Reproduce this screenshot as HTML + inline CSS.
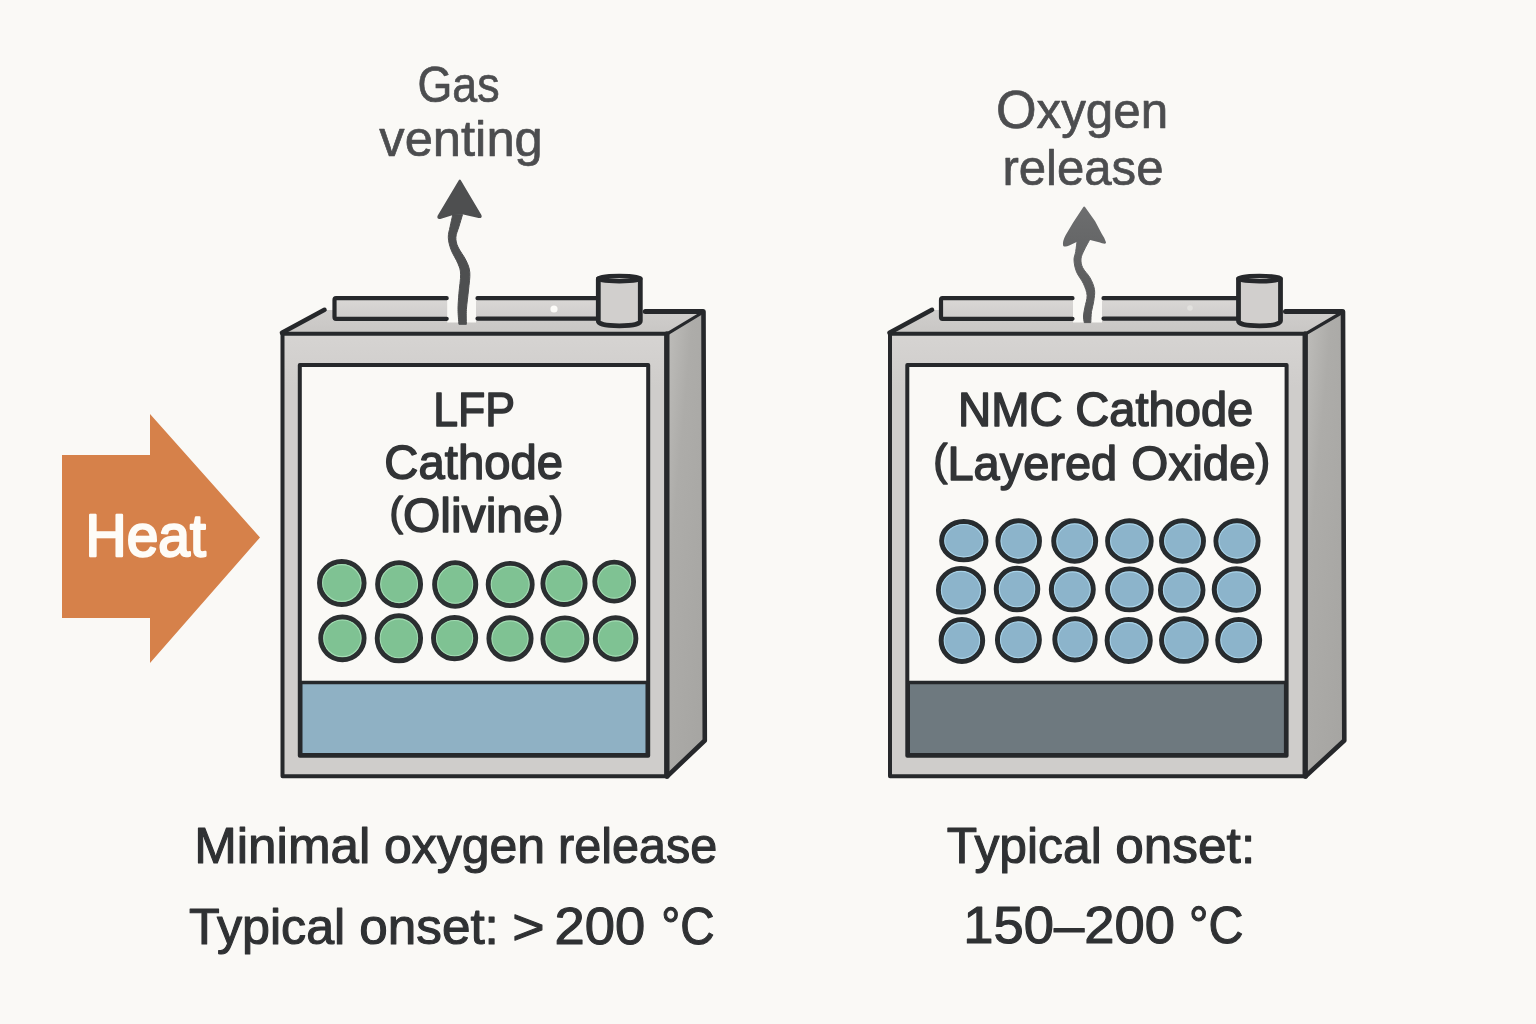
<!DOCTYPE html>
<html lang="en">
<head>
<meta charset="utf-8">
<title>LFP vs NMC cathode thermal stability</title>
<style>
html,body{margin:0;padding:0;background:#faf9f6;}
body{width:1536px;height:1024px;overflow:hidden;font-family:"Liberation Sans",sans-serif;}
svg{display:block;will-change:transform;}
text{font-family:"Liberation Sans",sans-serif;}
.lbl{fill:#323436;stroke:#323436;stroke-width:1.5px;stroke-linejoin:round;}
.cap{fill:#2f3133;stroke:#2f3133;stroke-width:1.1px;stroke-linejoin:round;}
.top{fill:#4c4d4f;stroke:#4c4d4f;stroke-width:.7px;stroke-linejoin:round;}
.heat{fill:#fefcf7;stroke:#fefcf7;stroke-width:2.4px;stroke-linejoin:round;}
.ol{stroke:#26282b;stroke-linejoin:round;stroke-linecap:round;}
</style>
</head>
<body>
<svg width="1536" height="1024" viewBox="0 0 1536 1024">
<defs>
<linearGradient id="side" x1="0" y1="0" x2="0.9" y2="1">
<stop offset="0" stop-color="#c0bfbc"/><stop offset="0.35" stop-color="#adaca9"/><stop offset="1" stop-color="#a6a5a2"/>
</linearGradient>
<linearGradient id="topg" x1="0" y1="0" x2="0" y2="1"><stop offset="0" stop-color="#d0cecc"/><stop offset="1" stop-color="#c8c6c4"/></linearGradient>
<linearGradient id="frontg" x1="0" y1="0" x2="0" y2="1"><stop offset="0" stop-color="#d6d4d2"/><stop offset="0.12" stop-color="#cfcdcb"/><stop offset="1" stop-color="#cfcdcb"/></linearGradient>
<linearGradient id="barg" x1="0" y1="0" x2="0" y2="1"><stop offset="0" stop-color="#dad8d6"/><stop offset="1" stop-color="#cecccb"/></linearGradient>
<linearGradient id="arr2" gradientUnits="userSpaceOnUse" x1="0" y1="207" x2="0" y2="323"><stop offset="0" stop-color="#6d6e6f"/><stop offset="0.45" stop-color="#626364"/><stop offset="1" stop-color="#545556"/></linearGradient>
</defs>

<!-- HEAT ARROW -->
<polygon points="62,455 150,455 150,414 260,537.5 150,663 150,618 62,618" fill="#d6814a"/>

<!-- LEFT BATTERY -->
<g id="batL" stroke="#26282b" stroke-linejoin="round" stroke-linecap="round" fill="none">
<polygon points="282.5,333.8 325.5,310 703.5,311.5 666.2,334.5" fill="url(#topg)" stroke="none"/>
<polygon points="666.2,334.5 703.5,311.5 704.8,740.5 666.2,776.3" fill="url(#side)" stroke="none"/>
<rect x="282.5" y="333.8" width="383.70000000000005" height="442.49999999999994" fill="url(#frontg)" stroke-width="4"/>
<path d="M282.0,332.8 L324.5,309.8" stroke-width="4.6"/>
<path d="M645.3,311.5 L702.5,311.5" stroke-width="5"/>
<path d="M667.2,333.8 L702.5,312.5" stroke-width="3.2"/>
<path d="M703.5,311.5 L704.8,740.5 L667.2,776.3" stroke-width="4.6"/>
<path d="M667.0,333.8 L667.0,776.3" stroke-width="5"/>
<rect x="299.8" y="365" width="348.40000000000003" height="390.8" fill="#faf9f6" stroke-width="4"/>
<rect x="300.8" y="682.5" width="346.40000000000003" height="72.3" fill="#8fb1c4" stroke-width="3.4"/>
<rect x="334.5" y="298.2" width="263.79999999999995" height="20.6" fill="url(#barg)" stroke="none"/>
<rect x="447.2" y="292" width="28.80000000000001" height="30.5" fill="#faf9f6" stroke="none"/>
<path d="M446.7,298.2 L336.0,298.2 Q334.5,298.2 334.5,300 L334.5,317 Q334.5,318.8 336.0,318.8 L446.7,318.8" stroke-width="4.2"/>
<path d="M477.5,298.2 L598.3,298.2 M477.5,318.6 L598.3,318.6" stroke-width="4.2"/>
<circle cx="554" cy="309" r="3.6" fill="#fcfbf8" stroke="none"/>
<path d="M598.3,279 L598.3,321 Q598.3,325.8 619.3,325.8 Q640.3,325.8 640.3,321 L640.3,279" fill="#d1cfcd" stroke-width="4.8"/>
<ellipse cx="619.3" cy="278.6" rx="21" ry="2.6" fill="#e9e8e5" stroke-width="4.6"/>
</g>

<!-- left gas arrow -->
<g fill="#4e4f50" stroke="#4e4f50" stroke-linejoin="round" stroke-linecap="round" stroke-width="1">
<path d="M452.7,215.0 C452.3,217.0 450.8,223.1 450.1,226.8 C449.4,230.5 448.2,233.5 448.3,237.3 C448.4,241.1 449.4,245.2 451.0,249.6 C452.6,254.0 456.4,259.6 458.0,263.7 C459.6,267.8 460.5,269.2 460.6,274.2 C460.8,279.2 459.3,287.7 458.9,293.6 C458.5,299.5 458.0,304.3 458.0,309.4 C458.0,314.5 458.8,321.8 458.9,324.3 L466.4,324.3 C466.4,321.8 466.0,315.1 466.4,309.4 C466.8,303.7 467.9,296.1 468.5,290.0 C469.1,283.9 470.2,277.5 469.8,272.5 C469.4,267.5 467.9,264.4 465.9,260.2 C463.9,255.9 459.7,250.8 458.0,247.0 C456.3,243.2 455.8,240.7 455.9,237.3 C456.0,233.9 457.8,230.5 458.9,226.8 C460.0,223.1 461.8,217.0 462.4,215.0Z"/>
<path d="M459.8,180.5 L438.6,216 Q437.6,218.4 440,218 L452,214.3 Q458,213 463.5,213.6 L478.8,217 Q481.6,217.6 480.4,215.3 Z" stroke-width="2"/>
</g>

<!-- green particles -->
<g fill="#7fc293" stroke="#2b2f31" stroke-width="5.3">
<ellipse cx="341.8" cy="583.0" rx="22.1" ry="21.3"/>
<ellipse cx="399.1" cy="584.2" rx="21.3" ry="21.3"/>
<ellipse cx="455.2" cy="584.5" rx="20.4" ry="21.6"/>
<ellipse cx="510.2" cy="584.5" rx="21.8" ry="20.9"/>
<ellipse cx="564.0" cy="583.6" rx="20.9" ry="20.7"/>
<ellipse cx="614.2" cy="581.6" rx="19.2" ry="19.3"/>
<ellipse cx="342.4" cy="638.3" rx="21.5" ry="21.2"/>
<ellipse cx="398.9" cy="638.3" rx="21.5" ry="22.3"/>
<ellipse cx="454.6" cy="638.1" rx="20.9" ry="20.5"/>
<ellipse cx="510.0" cy="638.5" rx="20.9" ry="20.5"/>
<ellipse cx="564.9" cy="639.1" rx="21.8" ry="21.0"/>
<ellipse cx="615.6" cy="638.5" rx="20.1" ry="20.5"/>
</g>
<g fill="none" stroke="#a3dcb3" stroke-width="1.1">
<ellipse cx="341.8" cy="583.0" rx="19.2" ry="18.4"/>
<ellipse cx="399.1" cy="584.2" rx="18.4" ry="18.4"/>
<ellipse cx="455.2" cy="584.5" rx="17.5" ry="18.8"/>
<ellipse cx="510.2" cy="584.5" rx="19.0" ry="18.1"/>
<ellipse cx="564.0" cy="583.6" rx="18.1" ry="17.9"/>
<ellipse cx="614.2" cy="581.6" rx="16.4" ry="16.5"/>
<ellipse cx="342.4" cy="638.3" rx="18.7" ry="18.3"/>
<ellipse cx="398.9" cy="638.3" rx="18.7" ry="19.4"/>
<ellipse cx="454.6" cy="638.1" rx="18.1" ry="17.6"/>
<ellipse cx="510.0" cy="638.5" rx="18.1" ry="17.6"/>
<ellipse cx="564.9" cy="639.1" rx="19.0" ry="18.2"/>
<ellipse cx="615.6" cy="638.5" rx="17.3" ry="17.6"/>
</g>

<!-- left labels -->



<!-- RIGHT BATTERY -->
<g id="batR" stroke="#26282b" stroke-linejoin="round" stroke-linecap="round" fill="none">
<polygon points="890,333.8 933,310 1343,311.5 1304.6,334.5" fill="url(#topg)" stroke="none"/>
<polygon points="1304.6,334.5 1343,311.5 1344.3,740.5 1304.6,776.3" fill="url(#side)" stroke="none"/>
<rect x="890" y="333.8" width="414.5999999999999" height="442.49999999999994" fill="url(#frontg)" stroke-width="4"/>
<path d="M889.5,332.8 L932,309.8" stroke-width="4.6"/>
<path d="M1285.5,311.5 L1342,311.5" stroke-width="5"/>
<path d="M1305.6,333.8 L1342,312.5" stroke-width="3.2"/>
<path d="M1343,311.5 L1344.3,740.5 L1305.6,776.3" stroke-width="4.6"/>
<path d="M1305.3999999999999,333.8 L1305.3999999999999,776.3" stroke-width="5"/>
<rect x="907.3" y="365" width="379.29999999999995" height="390.8" fill="#faf9f6" stroke-width="4"/>
<rect x="908.3" y="682.5" width="377.29999999999995" height="72.3" fill="#6e797f" stroke-width="3.4"/>
<rect x="941" y="298.2" width="297.5" height="20.6" fill="url(#barg)" stroke="none"/>
<rect x="1073" y="292" width="29" height="30.5" fill="#faf9f6" stroke="none"/>
<path d="M1072.5,298.2 L942.5,298.2 Q941,298.2 941,300 L941,317 Q941,318.8 942.5,318.8 L1072.5,318.8" stroke-width="4.2"/>
<path d="M1103.5,298.2 L1238.5,298.2 M1103.5,318.6 L1238.5,318.6" stroke-width="4.2"/>
<circle cx="1190" cy="308" r="2.8" fill="#e2e1de" stroke="none"/>
<path d="M1238.5,279 L1238.5,321 Q1238.5,325.8 1259.5,325.8 Q1280.5,325.8 1280.5,321 L1280.5,279" fill="#d1cfcd" stroke-width="4.8"/>
<ellipse cx="1259.5" cy="278.6" rx="21" ry="2.6" fill="#e9e8e5" stroke-width="4.6"/>
</g>

<!-- right oxygen arrow -->
<g fill="url(#arr2)" stroke="url(#arr2)" stroke-linejoin="round" stroke-linecap="round" stroke-width="1">
<path d="M1077.2,240.0 C1077.0,241.9 1076.2,248.1 1075.7,251.5 C1075.2,254.9 1073.8,256.9 1074.0,260.3 C1074.2,263.7 1075.0,268.2 1076.6,272.1 C1078.2,276.0 1081.8,279.9 1083.5,283.8 C1085.2,287.7 1086.9,291.6 1087.1,295.5 C1087.3,299.4 1085.5,303.8 1084.9,307.2 C1084.3,310.6 1083.6,313.4 1083.5,316.0 C1083.4,318.6 1084.1,321.5 1084.2,322.6 L1090.8,322.6 C1090.9,320.8 1091.0,315.1 1091.5,311.6 C1092.0,308.1 1093.2,305.1 1093.7,301.4 C1094.2,297.7 1095.1,293.5 1094.5,289.6 C1093.9,285.7 1092.1,281.5 1090.1,277.9 C1088.1,274.2 1084.2,270.9 1082.7,267.7 C1081.2,264.5 1080.8,261.8 1081.0,258.9 C1081.2,256.0 1082.7,253.4 1084.2,250.1 C1085.7,246.8 1089.1,240.8 1090.1,239.0Z"/>
<path d="M1084.2,207.6 L1074,223 L1066.6,235.4 Q1063.4,241.5 1064,245 Q1064.6,246.4 1068.8,244.5 L1077.2,240.5 Q1083.5,238.5 1090.4,239 L1100.3,241.6 Q1104.8,243.2 1105,242.5 Q1104,239 1101.5,235.4 L1094.5,222.2 Z" stroke-width="2"/>
</g>

<!-- blue particles -->
<g fill="#8cb4cb" stroke="#272c2f" stroke-width="5.3">
<ellipse cx="963.8" cy="540.7" rx="22.0" ry="19.0"/>
<ellipse cx="1018.7" cy="541.0" rx="20.6" ry="20.0"/>
<ellipse cx="1074.7" cy="541.0" rx="20.8" ry="20.0"/>
<ellipse cx="1129.4" cy="541.0" rx="21.6" ry="20.0"/>
<ellipse cx="1182.5" cy="541.0" rx="20.8" ry="20.0"/>
<ellipse cx="1237.0" cy="541.0" rx="20.9" ry="20.0"/>
<ellipse cx="961.0" cy="590.2" rx="22.4" ry="21.6"/>
<ellipse cx="1017.0" cy="589.1" rx="20.6" ry="20.6"/>
<ellipse cx="1072.3" cy="589.4" rx="20.8" ry="20.3"/>
<ellipse cx="1129.4" cy="589.4" rx="21.6" ry="20.3"/>
<ellipse cx="1181.7" cy="590.0" rx="21.1" ry="20.2"/>
<ellipse cx="1236.4" cy="589.6" rx="22.0" ry="20.6"/>
<ellipse cx="961.9" cy="640.5" rx="20.6" ry="20.8"/>
<ellipse cx="1018.4" cy="639.8" rx="20.8" ry="20.8"/>
<ellipse cx="1075.0" cy="639.4" rx="20.0" ry="20.4"/>
<ellipse cx="1128.7" cy="640.5" rx="21.4" ry="20.8"/>
<ellipse cx="1183.9" cy="640.1" rx="22.2" ry="21.1"/>
<ellipse cx="1238.7" cy="640.1" rx="20.8" ry="20.4"/>
</g>
<g fill="none" stroke="#a9d3e8" stroke-width="1.1">
<ellipse cx="963.8" cy="540.7" rx="19.1" ry="16.2"/>
<ellipse cx="1018.7" cy="541.0" rx="17.7" ry="17.1"/>
<ellipse cx="1074.7" cy="541.0" rx="17.9" ry="17.1"/>
<ellipse cx="1129.4" cy="541.0" rx="18.8" ry="17.1"/>
<ellipse cx="1182.5" cy="541.0" rx="17.9" ry="17.1"/>
<ellipse cx="1237.0" cy="541.0" rx="18.1" ry="17.1"/>
<ellipse cx="961.0" cy="590.2" rx="19.6" ry="18.8"/>
<ellipse cx="1017.0" cy="589.1" rx="17.7" ry="17.7"/>
<ellipse cx="1072.3" cy="589.4" rx="17.9" ry="17.5"/>
<ellipse cx="1129.4" cy="589.4" rx="18.8" ry="17.5"/>
<ellipse cx="1181.7" cy="590.0" rx="18.3" ry="17.3"/>
<ellipse cx="1236.4" cy="589.6" rx="19.1" ry="17.7"/>
<ellipse cx="961.9" cy="640.5" rx="17.7" ry="17.9"/>
<ellipse cx="1018.4" cy="639.8" rx="17.9" ry="17.9"/>
<ellipse cx="1075.0" cy="639.4" rx="17.1" ry="17.6"/>
<ellipse cx="1128.7" cy="640.5" rx="18.5" ry="17.9"/>
<ellipse cx="1183.9" cy="640.1" rx="19.3" ry="18.3"/>
<ellipse cx="1238.7" cy="640.1" rx="17.9" ry="17.6"/>
</g>

<!-- right labels -->


<text id="heat" class="heat" x="85.59" y="556.2" font-size="60" textLength="120.20" lengthAdjust="spacingAndGlyphs">Heat</text>
<text id="gas" class="top" x="417.54" y="101.8" font-size="50.5" textLength="82.12" lengthAdjust="spacingAndGlyphs">Gas</text>
<text id="vent" class="top" x="379.29" y="156.1" font-size="50.5" textLength="163.49" lengthAdjust="spacingAndGlyphs">venting</text>
<text id="lfp" class="lbl" x="433.29" y="426.2" font-size="49" textLength="81.85" lengthAdjust="spacingAndGlyphs">LFP</text>
<text id="cathL" class="lbl" x="384.36" y="478.5" font-size="49" textLength="178.66" lengthAdjust="spacingAndGlyphs">Cathode</text>
<text id="oliv" class="lbl" x="389.55" y="531.7" font-size="49" textLength="173.70" lengthAdjust="spacingAndGlyphs"><tspan font-size="41.4" dy="-5.4">(</tspan><tspan dy="5.4">Olivine</tspan><tspan font-size="41.4" dy="-5.4">)</tspan></text>
<text id="minimal" class="cap" x="194.15" y="863.0" font-size="50" textLength="176.18" lengthAdjust="spacingAndGlyphs">Minimal</text>
<text id="oxygenL" class="cap" x="383.93" y="863.0" font-size="50" textLength="161.25" lengthAdjust="spacingAndGlyphs">oxygen</text>
<text id="releaseL" class="cap" x="558.10" y="863.0" font-size="50" textLength="159.16" lengthAdjust="spacingAndGlyphs">release</text>
<text id="typL" class="cap" x="188.97" y="943.7" font-size="50" textLength="156.32" lengthAdjust="spacingAndGlyphs">Typical</text>
<text id="onsetL" class="cap" x="359.31" y="943.7" font-size="50" textLength="139.57" lengthAdjust="spacingAndGlyphs">onset:</text>
<text id="gt" class="cap" x="512.20" y="943.7" font-size="50" textLength="32.31" lengthAdjust="spacingAndGlyphs">&gt;</text>
<text id="n200L" class="cap" x="554.59" y="943.7" font-size="52" textLength="90.65" lengthAdjust="spacingAndGlyphs">200</text>
<text id="degL" class="cap" x="661.16" y="943.7" font-size="52" textLength="53.36" lengthAdjust="spacingAndGlyphs">°C</text>
<text id="nmc" class="lbl" x="957.97" y="426.3" font-size="48.5" textLength="104.59" lengthAdjust="spacingAndGlyphs">NMC</text>
<text id="cathR" class="lbl" x="1075.26" y="426.3" font-size="48.5" textLength="178.07" lengthAdjust="spacingAndGlyphs">Cathode</text>
<text id="layer" class="lbl" x="933.25" y="479.6" font-size="48.5" textLength="184.01" lengthAdjust="spacingAndGlyphs"><tspan font-size="44.1" dy="-4.6">(</tspan><tspan dy="4.6">Layered</tspan></text>
<text id="oxide" class="lbl" x="1131.34" y="479.6" font-size="48.5" textLength="138.93" lengthAdjust="spacingAndGlyphs">Oxide<tspan font-size="44.1" dy="-4.6">)</tspan></text>
<text id="oxyT" class="top" x="995.94" y="127.8" font-size="50.5" textLength="172.15" lengthAdjust="spacingAndGlyphs"><tspan font-size="53.5">O</tspan>xygen</text>
<text id="relT" class="top" x="1002.40" y="185.4" font-size="50.5" textLength="161.06" lengthAdjust="spacingAndGlyphs">release</text>
<text id="typR" class="cap" x="946.86" y="862.8" font-size="50" textLength="154.83" lengthAdjust="spacingAndGlyphs">Typical</text>
<text id="onsetR" class="cap" x="1115.20" y="862.8" font-size="50" textLength="139.98" lengthAdjust="spacingAndGlyphs">onset:</text>
<text id="rng" class="cap" x="963.38" y="943.3" font-size="52.5" textLength="211.67" lengthAdjust="spacingAndGlyphs">150–200</text>
<text id="degR" class="cap" x="1189.05" y="943.3" font-size="52.5" textLength="54.38" lengthAdjust="spacingAndGlyphs">°C</text>
</svg>
</body>
</html>
